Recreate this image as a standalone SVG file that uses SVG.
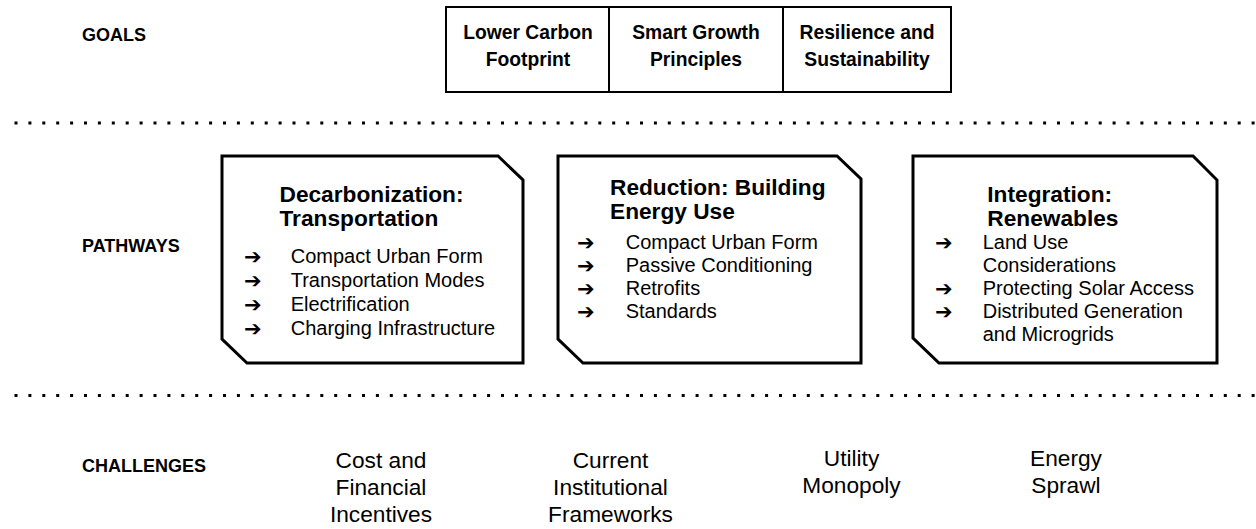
<svg xmlns="http://www.w3.org/2000/svg" width="1256" height="529" viewBox="0 0 1256 529">
<style>
.lbl{font-family:"Liberation Sans",Arial,sans-serif;font-weight:bold;font-size:18px;fill:#000}
.goal{font-family:"Liberation Sans",Arial,sans-serif;font-weight:bold;font-size:19.3px;fill:#000;text-anchor:middle}
.gbox{fill:#fff;stroke:#000;stroke-width:2}
.pbox{fill:#fff;stroke:#000;stroke-width:3;stroke-linejoin:miter}
.ttl{font-family:"Liberation Sans",Arial,sans-serif;font-weight:bold;font-size:22.7px;fill:#000}
.item{font-family:"Liberation Sans",Arial,sans-serif;font-size:20px;fill:#000}
.arr{font-family:"DejaVu Sans",sans-serif;font-size:21px;fill:#000}
.ch{font-family:"Liberation Sans",Arial,sans-serif;font-size:22.7px;fill:#000;text-anchor:middle}
.dots{stroke:#000;stroke-width:3;stroke-dasharray:3 10.9;fill:none}
</style>
<rect width="1256" height="529" fill="#fff"/>
<g id="separators">
<line class="dots" x1="14.5" y1="123" x2="1256" y2="123"/>
<line class="dots" x1="14.5" y1="395.5" x2="1256" y2="395.5"/>
</g>
<g id="section-labels">
<text class="lbl" x="82" y="41">GOALS</text>
<text class="lbl" x="82" y="252">PATHWAYS</text>
<text class="lbl" x="82" y="472">CHALLENGES</text>
</g>
<g id="goal-lower-carbon">
<rect class="gbox" x="446" y="7" width="163" height="85"/>
<text class="goal" x="528" y="39">Lower Carbon</text>
<text class="goal" x="528" y="66">Footprint</text>
</g>
<g id="goal-smart-growth">
<rect class="gbox" x="609" y="7" width="174" height="85"/>
<text class="goal" x="696" y="39">Smart Growth</text>
<text class="goal" x="696" y="66">Principles</text>
</g>
<g id="goal-resilience">
<rect class="gbox" x="783" y="7" width="168" height="85"/>
<text class="goal" x="867" y="39">Resilience and</text>
<text class="goal" x="867" y="66">Sustainability</text>
</g>
<g id="pathway-decarbonization">
<path class="pbox" d="M222,156 H498 L523,180 V363 H247 L222,339 Z"/>
<text class="ttl" x="279.5" y="202">Decarbonization:</text>
<text class="ttl" x="279.5" y="226">Transportation</text>
<text class="arr" x="244" y="264">➔</text><text class="item" x="290.7" y="263">Compact Urban Form</text>
<text class="arr" x="244" y="288">➔</text><text class="item" x="290.7" y="287">Transportation Modes</text>
<text class="arr" x="244" y="312">➔</text><text class="item" x="290.7" y="311">Electrification</text>
<text class="arr" x="244" y="336">➔</text><text class="item" x="290.7" y="335">Charging Infrastructure</text>
</g>
<g id="pathway-reduction">
<path class="pbox" d="M558,156 H837 L861,179 V363 H583 L558,339 Z"/>
<text class="ttl" x="610" y="195">Reduction: Building</text>
<text class="ttl" x="610" y="219">Energy Use</text>
<text class="arr" x="577" y="250">➔</text><text class="item" x="625.7" y="249">Compact Urban Form</text>
<text class="arr" x="577" y="273">➔</text><text class="item" x="625.7" y="272">Passive Conditioning</text>
<text class="arr" x="577" y="296">➔</text><text class="item" x="625.7" y="295">Retrofits</text>
<text class="arr" x="577" y="319">➔</text><text class="item" x="625.7" y="318">Standards</text>
</g>
<g id="pathway-integration">
<path class="pbox" d="M913,156 H1193 L1217,180 V363 H939 L913,338 Z"/>
<text class="ttl" x="987.3" y="202">Integration:</text>
<text class="ttl" x="987.3" y="226">Renewables</text>
<text class="arr" x="935" y="250">➔</text><text class="item" x="982.7" y="249">Land Use</text>
<text class="item" x="982.7" y="272">Considerations</text>
<text class="arr" x="935" y="296">➔</text><text class="item" x="982.7" y="295">Protecting Solar Access</text>
<text class="arr" x="935" y="319">➔</text><text class="item" x="982.7" y="318">Distributed Generation</text>
<text class="item" x="982.7" y="341">and Microgrids</text>
</g>
<g id="challenge-cost">
<text class="ch" x="381" y="468">Cost and</text>
<text class="ch" x="381" y="495">Financial</text>
<text class="ch" x="381" y="521.5">Incentives</text>
</g>
<g id="challenge-institutional">
<text class="ch" x="610.5" y="468">Current</text>
<text class="ch" x="610.5" y="495">Institutional</text>
<text class="ch" x="610.5" y="521.5">Frameworks</text>
</g>
<g id="challenge-utility">
<text class="ch" x="851.5" y="466">Utility</text>
<text class="ch" x="851.5" y="493">Monopoly</text>
</g>
<g id="challenge-sprawl">
<text class="ch" x="1066" y="466">Energy</text>
<text class="ch" x="1066" y="493">Sprawl</text>
</g>
<g id="connectors"></g>
</svg>
